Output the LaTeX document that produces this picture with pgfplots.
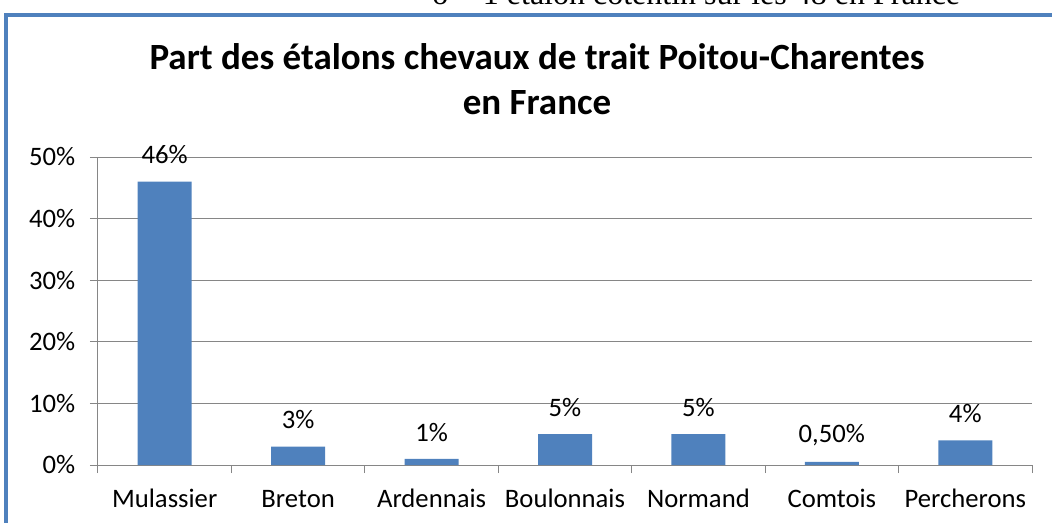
\documentclass[border=0pt]{standalone}
\usepackage{pgfplots}
\pgfplotsset{compat=1.18}
\usepackage{pgfplotstable}
\usepackage{fontspec}
\setmainfont{Carlito}
\newfontfamily\timesfont{Liberation Serif}
\definecolor{barblue}{HTML}{4F81BD}
\definecolor{gridgray}{HTML}{868686}

\pgfplotstableread{
x y label
0 46 46\%
1 3 3\%
2 1 1\%
3 5 5\%
4 5 5\%
5 0.5 0,50\%
6 4 4\%
}\datatable

\begin{document}
\begin{tikzpicture}
\useasboundingbox (0pt,0pt) rectangle (789pt,-392.25pt);
\begin{scope}
\clip (0pt,0pt) rectangle (789pt,-392.25pt);
\node[anchor=base west, font=\timesfont\fontsize{24}{28}\selectfont, inner sep=0] at (324pt,-3.75pt) {o\hspace{26pt}1 étalon cotentin sur les 48 en France};
\draw[barblue, line width=2.4pt] (4.5pt,-405pt) -- (4.5pt,-11.25pt) -- (802pt,-11.25pt);
\end{scope}
\node[anchor=base, font=\bfseries\fontsize{27.75}{33.75}\selectfont, inner sep=0] at (402.75pt,-52.5pt) {Part des étalons chevaux de trait Poitou-Charentes};
\node[anchor=base, font=\bfseries\fontsize{27.75}{33.75}\selectfont, inner sep=0] at (402.75pt,-86.25pt) {en France};
\begin{axis}[
  at={(73.5pt,-348.75pt)}, anchor=south west,
  scale only axis, width=700.5pt, height=231pt,
  xmin=-0.5, xmax=6.5, ymin=0, ymax=50,
  clip=false,
  axis lines*=left,
  axis line style={gridgray, line width=0.75pt},
  ymajorgrids, grid style={gridgray, line width=0.75pt},
  tick align=outside,
  major tick length=6pt, minor tick length=6pt,
  ytick={0,10,...,50},
  yticklabel={\pgfmathprintnumber{\tick}\%},
  xtick={0,...,6},
  xticklabels={Mulassier,Breton,Ardennais,Boulonnais,Normand,Comtois,Percherons},
  minor xtick={-0.5,0.5,...,6.5},
  major x tick style={draw=none},
  minor x tick style={draw=gridgray, line width=0.75pt},
  ytick style={draw=gridgray, line width=0.75pt},
  tick label style={font=\fontsize{20}{24}\selectfont, text=black},
  xticklabel style={text height=0.75em, text depth=0.25em, yshift=-14.5pt},
  yticklabel style={xshift=-7.5pt},
  /pgf/number format/assume math mode=true,
]
\addplot[ybar, fill=barblue, draw=none, bar width=40.5pt,
  nodes near coords, point meta=explicit symbolic,
  every node near coord/.append style={font=\fontsize{20}{24}\selectfont, text=black, anchor=center, yshift=20pt}]
  table[x=x, y=y, meta=label] {\datatable};
\end{axis}
\end{tikzpicture}
\end{document}
